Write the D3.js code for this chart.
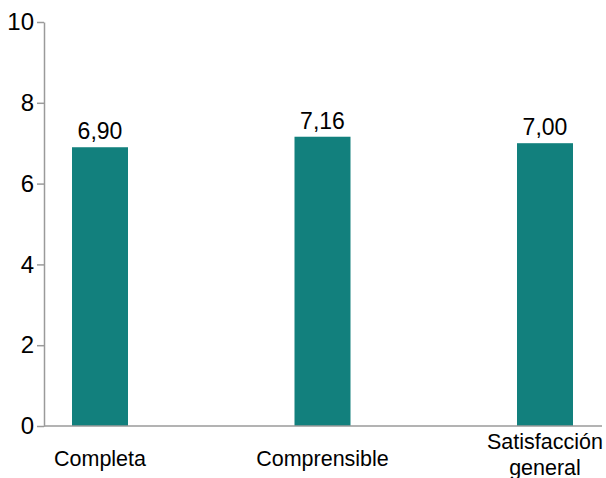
<!DOCTYPE html>
<html>
  <head>
    <meta charset="utf-8">
    <style>
      body { margin: 0; background: #fff; }
      text { font-family: "Liberation Sans", Arial, sans-serif; fill: #000; }
      .bar { fill: #12807d; }
      .axis path, .axis line { stroke: #9a9a9a; stroke-width: 1.5; }
    </style>
  </head>
  <body>
    <script src="https://d3js.org/d3.v7.min.js"></script>
    <div id="chart"></div>
    <script>
      // Data
      var categories = ["Completa", "Comprensible", "Satisfacción general"];
      var values = [6.90, 7.16, 7.00];
      var yTicks = [0, 2, 4, 6, 8, 10];

      var width = 606, height = 478;
      var x0 = 44, yTop = 22, yBottom = 426;

      var svg = d3.select("#chart")
                  .append("svg")
                    .attr("width", width)
                    .attr("height", height);

      var x = d3.scalePoint()
                .domain(categories)
                .range([100, 545]);
      var y = d3.scaleLinear()
                .domain([0, 10])
                .range([yBottom, yTop]);
      var barWidth = 56;

      // Bars
      svg.selectAll(".bar")
          .data(values)
        .enter().append("rect")
          .attr("class", "bar")
          .attr("x", function(d, i) { return x(categories[i]) - barWidth / 2; })
          .attr("width", barWidth)
          .attr("y", function(d) { return y(d); })
          .attr("height", function(d) { return yBottom - y(d); });

      // Value labels
      svg.selectAll(".val")
          .data(values)
        .enter().append("text")
          .attr("class", "val")
          .attr("x", function(d, i) { return x(categories[i]); })
          .attr("y", function(d) { return y(d) - 8; })
          .attr("text-anchor", "middle")
          .style("font-size", "23px")
          .text(function(d) { return d.toFixed(2).replace(".", ","); });

      // y axis
      var yAxis = svg.append("g")
          .attr("class", "axis")
          .attr("transform", "translate(" + x0 + ",0)")
          .call(d3.axisLeft(y).tickValues(yTicks).tickSize(7).tickSizeOuter(0).tickPadding(3));
      yAxis.selectAll("text").style("font-size", "24px");

      // x axis line
      svg.append("line")
          .attr("x1", x0).attr("x2", 602)
          .attr("y1", yBottom).attr("y2", yBottom)
          .style("stroke", "#9a9a9a").style("stroke-width", 1.5);

      // Category labels (wrapped)
      var cat = svg.selectAll(".cat")
          .data(categories)
        .enter().append("text")
          .attr("class", "cat")
          .attr("text-anchor", "middle")
          .style("font-size", "21.5px")
          .attr("x", function(d) { return x(d); })
          .attr("y", function(d) { return d.indexOf(" ") > 0 ? 449 : 466; });
      cat.each(function(d) {
        var words = d === "Satisfacción general" ? ["Satisfacción", "general"] : [d];
        var t = d3.select(this);
        words.forEach(function(w, i) {
          t.append("tspan")
            .attr("x", x(d))
            .attr("dy", i ? 26 : 0)
            .text(w);
        });
      });
    </script>
  </body>
</html>
